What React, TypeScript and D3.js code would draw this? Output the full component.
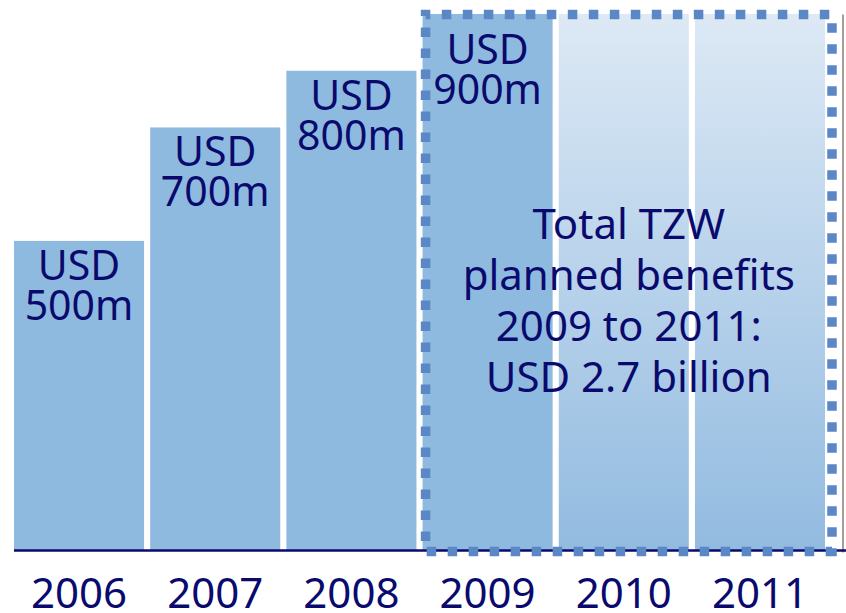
import React from "react";
import * as d3 from "d3";

const years = ["2006", "2007", "2008", "2009", "2010", "2011"];
const values = [500, 700, 800, 900, 900, 900];
const valueLabels = ["500m", "700m", "800m", "900m", "", ""];
const planned = [false, false, false, false, true, true];
const boxedYears = ["2009", "2010", "2011"];
const noteLines = ["Total TZW", "planned benefits", "2009 to 2011:", "USD 2.7 billion"];

const W = 846;
const H = 613;
const NAVY = "#0a0a6e";
const BAR = "#8fbadf";
const DOT = "#5b87c6";
const FONT = "'Noto Sans', sans-serif";

export default function App() {
  const x = d3.scaleBand<string>().domain(years).range([14, 825]).paddingInner(0.045).paddingOuter(0);
  const y = d3.scaleLinear().domain([-45, 900]).range([550, 14]);
  const bw = x.bandwidth();
  const boxL = (x(boxedYears[0]) as number) + 3;
  const boxR = (x(boxedYears[boxedYears.length - 1]) as number) + bw + 7;
  const boxT = y(900) + 0.5;
  const boxB = y(-45) + 1.5;
  const noteX = (boxL + boxR) / 2;
  const labelY = (v: number) => Math.max(y(v) + 39, boxT + 49);

  return (
    <svg width={W} height={H} style={{ position: "fixed", left: 0, top: 0, display: "block", background: "#fff" }}>
      <defs>
        <linearGradient id="planGrad" gradientUnits="userSpaceOnUse" x1="0" y1={y(900)} x2="0" y2={y(-45)}>
          <stop offset="0" stopColor="#dde9f5" />
          <stop offset="1" stopColor="#92bbe0" />
        </linearGradient>
      </defs>
      {years.map((yr, i) => (
        <rect
          key={yr}
          x={x(yr)}
          y={y(values[i])}
          width={bw}
          height={y(-45) - y(values[i])}
          fill={planned[i] ? "url(#planGrad)" : BAR}
        />
      ))}
      <line x1={843} x2={843} y1={boxT} y2={boxB + 1} stroke="#a59e98" strokeWidth={2} />
      <line x1={14} x2={W} y1={550.5} y2={550.5} stroke={NAVY} strokeWidth={2.5} />
      <rect
        x={boxL}
        y={boxT}
        width={boxR - boxL}
        height={boxB - boxT}
        fill="none"
        stroke={DOT}
        strokeWidth={9.5}
        strokeDasharray="9.5 11.5"
        strokeDashoffset={4.75}
      />
      {years.map((yr, i) =>
        valueLabels[i] ? (
          <text
            key={"l" + yr}
            x={(x(yr) as number) + bw / 2}
            y={labelY(values[i])}
            textAnchor="middle"
            fontFamily={FONT}
            fontSize={41}
            fill={NAVY}
          >
            <tspan x={(x(yr) as number) + bw / 2}>USD</tspan>
            <tspan x={(x(yr) as number) + bw / 2} dy={40}>
              {valueLabels[i]}
            </tspan>
          </text>
        ) : null
      )}
      {years.map((yr) => (
        <text
          key={"y" + yr}
          x={(x(yr) as number) + bw / 2}
          y={608}
          textAnchor="middle"
          fontFamily={FONT}
          fontSize={42}
          fill={NAVY}
        >
          {yr}
        </text>
      ))}
      <text textAnchor="middle" fontFamily={FONT} fontSize={42} fill={NAVY}>
        {noteLines.map((l, i) => (
          <tspan key={l} x={noteX} y={239 + i * 51}>
            {l}
          </tspan>
        ))}
      </text>
    </svg>
  );
}
